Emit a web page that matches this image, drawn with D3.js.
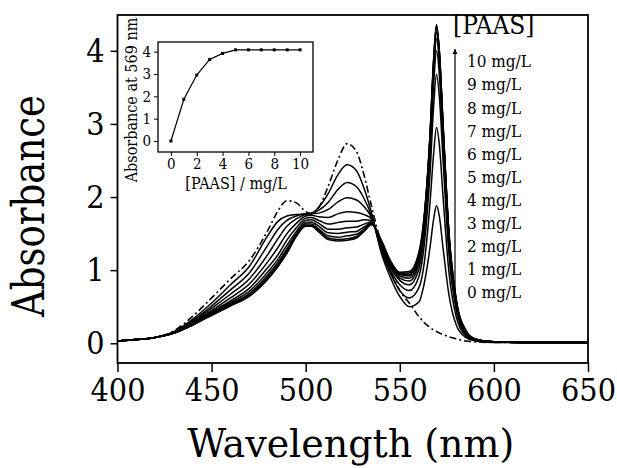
<!DOCTYPE html>
<html>
<head>
<meta charset="utf-8">
<script src="https://cdn.jsdelivr.net/npm/d3@7"></script>
<style>
  body { margin: 0; background: #fff; }
  svg text { font-family: "DejaVu Serif Condensed", "Liberation Serif", "DejaVu Serif", serif; font-stretch: condensed; fill: #000; }
</style>
</head>
<body>
<div id="container"></div>
<script>
/* CONSTANTS AND GLOBALS */
const width = 617, height = 468
const margin = { top: 15, bottom: 105, left: 117.5, right: 29 }
const serif = '"DejaVu Serif Condensed", "Liberation Serif", "DejaVu Serif", serif'

/* DATA */
const wavelength = [400, 410, 420, 430, 440, 450, 460, 470, 480, 485, 490, 495, 500, 503, 507, 512, 517, 522, 527, 531, 535, 540, 545, 550, 555, 560, 563, 566, 568, 569.5, 571, 573, 576, 580, 585, 590, 600, 620, 650]

// 0 mg/L, drawn dash-dot
const abs0 = [.03, .05, .08, .17, .37, .62, .88, 1.13, 1.55, 1.8, 1.95, 1.92, 1.8, 1.77, 1.86, 2.15, 2.5, 2.73, 2.62, 2.3, 1.87, 1.38, 1.0, .72, .55, .37, .28, .22, .18, .16, .14, .12, .09, .06, .03, .02, .01, .01, .01]
const abs1 = [.03, .05, .08, .16, .33, .55, .8, 1.05, 1.48, 1.66, 1.74, 1.76, 1.77, 1.78, 1.86, 2.05, 2.3, 2.44, 2.36, 2.12, 1.78, 1.25, .9, .64, .5, .56, .82, 1.3, 1.7, 1.88, 1.74, 1.3, .68, .25, .08, .03, .01, .01, .01]
const abs2 = [.03, .05, .08, .15, .31, .51, .73, .96, 1.35, 1.55, 1.68, 1.74, 1.77, 1.78, 1.82, 1.93, 2.1, 2.2, 2.14, 1.98, 1.74, 1.28, .96, .72, .62, .75, 1.1, 1.9, 2.6, 2.95, 2.72, 2.0, 1.0, .36, .1, .04, .02, .01, .01]
const abs3 = [.03, .05, .08, .15, .30, .48, .67, .88, 1.22, 1.42, 1.6, 1.7, 1.76, 1.77, 1.78, 1.83, 1.93, 1.99, 1.96, 1.87, 1.72, 1.31, 1.0, .8, .72, .9, 1.35, 2.3, 3.25, 3.68, 3.38, 2.5, 1.25, .45, .12, .04, .02, .01, .01]
const abs4 = [.03, .05, .08, .15, .29, .45, .62, .81, 1.12, 1.3, 1.5, 1.64, 1.74, 1.75, 1.73, 1.72, 1.77, 1.8, 1.79, 1.76, 1.7, 1.34, 1.04, .86, .8, 1.0, 1.5, 2.55, 3.55, 4.0, 3.68, 2.73, 1.38, .5, .14, .05, .02, .01, .01]
const abs5 = [.03, .05, .08, .14, .28, .43, .58, .75, 1.04, 1.2, 1.41, 1.58, 1.71, 1.72, 1.68, 1.63, 1.65, 1.67, 1.67, 1.69, 1.68, 1.36, 1.07, .89, .85, 1.07, 1.6, 2.68, 3.7, 4.17, 3.84, 2.85, 1.45, .53, .15, .05, .02, .01, .01]
const abs6 = [.03, .05, .08, .14, .27, .42, .56, .71, .98, 1.14, 1.34, 1.53, 1.68, 1.69, 1.64, 1.56, 1.56, 1.58, 1.59, 1.63, 1.66, 1.38, 1.09, .92, .89, 1.12, 1.66, 2.74, 3.78, 4.25, 3.92, 2.91, 1.49, .55, .16, .05, .02, .01, .01]
const abs7 = [.03, .05, .08, .14, .26, .41, .54, .68, .94, 1.1, 1.29, 1.5, 1.65, 1.66, 1.6, 1.51, 1.5, 1.52, 1.53, 1.59, 1.65, 1.39, 1.1, .94, .92, 1.16, 1.7, 2.78, 3.83, 4.3, 3.96, 2.95, 1.52, .57, .17, .05, .02, .01, .01]
const abs8 = [.03, .05, .08, .14, .26, .40, .53, .66, .91, 1.07, 1.26, 1.48, 1.63, 1.63, 1.56, 1.47, 1.45, 1.47, 1.49, 1.56, 1.64, 1.4, 1.11, .95, .94, 1.19, 1.72, 2.8, 3.86, 4.33, 3.99, 2.97, 1.54, .58, .17, .06, .02, .01, .01]
const abs9 = [.03, .05, .08, .14, .25, .39, .52, .65, .89, 1.05, 1.24, 1.47, 1.61, 1.61, 1.54, 1.44, 1.42, 1.43, 1.46, 1.54, 1.63, 1.41, 1.12, .96, .96, 1.21, 1.74, 2.82, 3.88, 4.35, 4.0, 2.98, 1.55, .59, .18, .06, .02, .01, .01]
const abs10 = [.03, .05, .08, .14, .25, .38, .51, .64, .88, 1.04, 1.23, 1.46, 1.6, 1.6, 1.52, 1.42, 1.40, 1.41, 1.44, 1.53, 1.62, 1.42, 1.13, .97, .98, 1.23, 1.75, 2.83, 3.9, 4.36, 4.01, 3.0, 1.56, .6, .18, .06, .02, .01, .01]

const concLabels = ["10 mg/L", "9 mg/L", "8 mg/L", "7 mg/L", "6 mg/L", "5 mg/L", "4 mg/L", "3 mg/L", "2 mg/L", "1 mg/L", "0 mg/L"]

// inset: absorbance at 569 nm vs [PAAS]
const insetConc = [0, 1, 2, 3, 4, 5, 6, 7, 8, 9, 10]
const insetAbs = [0, 1.87, 2.95, 3.65, 3.92, 4.08, 4.08, 4.08, 4.08, 4.08, 4.08]

const xTicks = [400, 450, 500, 550, 600, 650]
const yTicks = [0, 1, 2, 3, 4]
const insetXTicks = [0, 2, 4, 6, 8, 10]

/* SCALES */
const xScale = d3.scaleLinear()
  .domain([400, 650])
  .range([margin.left, width - margin.right])

const yScale = d3.scaleLinear()
  .domain([-0.27, 4.49])
  .range([height - margin.bottom, margin.top])

/* HTML ELEMENTS */
const svg = d3.select("#container")
  .append("svg")
  .attr("width", width)
  .attr("height", height)
  .attr("font-family", serif)

svg.append("clipPath").attr("id", "plotClip")
  .append("rect")
  .attr("x", margin.left).attr("y", margin.top)
  .attr("width", width - margin.right - margin.left)
  .attr("height", height - margin.bottom - margin.top)

// spectra
const line = d3.line()
  .x((d, i) => xScale(wavelength[i]))
  .y(d => yScale(d))
  .curve(d3.curveMonotoneX)

const solid = [abs1, abs2, abs3, abs4, abs5, abs6, abs7, abs8, abs9, abs10]

const plot = svg.append("g").attr("clip-path", "url(#plotClip)")

plot.selectAll("path.spec")
  .data(solid)
  .join("path")
  .attr("class", "spec")
  .attr("d", line)
  .attr("fill", "none")
  .attr("stroke", "#000")
  .attr("stroke-width", 1.5)

plot.append("path")
  .attr("d", line(abs0))
  .attr("fill", "none")
  .attr("stroke", "#000")
  .attr("stroke-width", 1.6)
  .attr("stroke-dasharray", "7,3,2,3")

// axes
const xAxis = d3.axisBottom(xScale).tickValues(xTicks).tickFormat(d3.format("d")).tickSize(9).tickPadding(6)
const yAxis = d3.axisLeft(yScale).tickValues(yTicks).tickFormat(d3.format("d")).tickSize(7).tickPadding(6)

svg.append("g")
  .attr("transform", `translate(0,${height - margin.bottom})`)
  .call(xAxis)
  .attr("font-family", serif)
  .call(g => g.select(".domain").remove())
  .call(g => g.selectAll("line").attr("stroke-width", 1.5))
  .call(g => g.selectAll("text").style("font-size", "32px"))

svg.append("g")
  .attr("transform", `translate(${margin.left},0)`)
  .call(yAxis)
  .attr("font-family", serif)
  .call(g => g.select(".domain").remove())
  .call(g => g.selectAll("line").attr("stroke-width", 1.5))
  .call(g => g.selectAll("text").style("font-size", "32px"))

svg.append("rect")
  .attr("x", margin.left).attr("y", margin.top)
  .attr("width", width - margin.right - margin.left)
  .attr("height", height - margin.bottom - margin.top)
  .attr("fill", "none")
  .attr("stroke", "#000")
  .attr("stroke-width", 1.8)

svg.append("text")
  .attr("x", (margin.left + width - margin.right) / 2 - 2)
  .attr("y", 457)
  .attr("text-anchor", "middle")
  .attr("textLength", 327)
  .attr("lengthAdjust", "spacingAndGlyphs")
  .style("font-size", "40px")
  .text("Wavelength (nm)")

svg.append("text")
  .attr("transform", "translate(44,206) rotate(-90)")
  .attr("text-anchor", "middle")
  .attr("textLength", 222)
  .attr("lengthAdjust", "spacingAndGlyphs")
  .style("font-size", "44px")
  .text("Absorbance")

// legend
svg.append("text")
  .attr("x", 453).attr("y", 34)
  .style("font-size", "26px")
  .text("[PAAS]")

svg.selectAll("text.conc")
  .data(concLabels)
  .join("text")
  .attr("class", "conc")
  .attr("x", 467)
  .attr("y", (d, i) => 61.7 + i * 23.1)
  .attr("dy", "0.33em")
  .style("font-size", "17px")
  .text(d => d)

svg.append("defs").append("marker")
  .attr("id", "arrowHead")
  .attr("viewBox", "0 0 10 10")
  .attr("refX", 10).attr("refY", 5)
  .attr("markerWidth", 5).attr("markerHeight", 7)
  .attr("markerUnits", "userSpaceOnUse")
  .attr("orient", "auto")
  .append("path")
  .attr("d", "M0,0 L10,5 L0,10 Z")
  .attr("fill", "#000")

svg.append("line")
  .attr("x1", 455).attr("x2", 455)
  .attr("y1", 298).attr("y2", 49)
  .attr("stroke", "#000")
  .attr("stroke-width", 1.2)
  .attr("marker-end", "url(#arrowHead)")

/* INSET */
const ix = d3.scaleLinear().domain([-1, 11]).range([158, 313])
const iy = d3.scaleLinear().domain([-0.49, 4.43]).range([152, 42])

const inset = svg.append("g")

inset.append("rect")
  .attr("x", 158).attr("y", 42)
  .attr("width", 155).attr("height", 110)
  .attr("fill", "#fff")
  .attr("stroke", "#000")
  .attr("stroke-width", 1.3)

inset.append("g")
  .attr("transform", "translate(0,152)")
  .call(d3.axisBottom(ix).tickValues(insetXTicks).tickFormat(d3.format("d")).tickSize(4).tickPadding(2))
  .attr("font-family", serif)
  .call(g => g.select(".domain").remove())
  .call(g => g.selectAll("text").style("font-size", "15px"))

inset.append("g")
  .attr("transform", "translate(158,0)")
  .call(d3.axisLeft(iy).tickValues(yTicks).tickFormat(d3.format("d")).tickSize(4).tickPadding(3))
  .attr("font-family", serif)
  .call(g => g.select(".domain").remove())
  .call(g => g.selectAll("text").style("font-size", "15px"))

inset.append("path")
  .attr("d", d3.line().x((d, i) => ix(insetConc[i])).y(d => iy(d))(insetAbs))
  .attr("fill", "none")
  .attr("stroke", "#000")
  .attr("stroke-width", 1.2)

inset.selectAll("rect.pt")
  .data(insetAbs)
  .join("rect")
  .attr("class", "pt")
  .attr("x", (d, i) => ix(insetConc[i]) - 1.5)
  .attr("y", d => iy(d) - 1.5)
  .attr("width", 3).attr("height", 3)
  .attr("fill", "#000")

inset.append("text")
  .attr("x", 236).attr("y", 189)
  .attr("text-anchor", "middle")
  .style("font-size", "16px")
  .text("[PAAS] / mg/L")

inset.append("text")
  .attr("transform", "translate(137,100) rotate(-90)")
  .attr("text-anchor", "middle")
  .style("font-size", "16px")
  .text("Absorbance at 569 nm")
</script>
</body>
</html>
